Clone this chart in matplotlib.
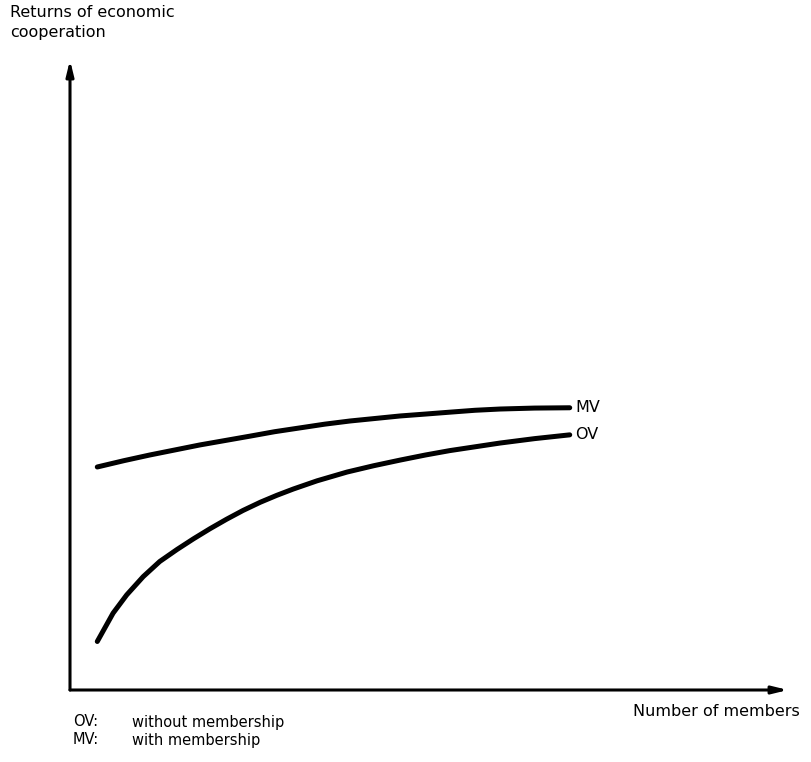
import matplotlib.pyplot as plt

# curve values (x: number of members, y: returns), 0..100 scale
mv_x = [3.8, 7.5, 11.1, 14.6, 18.1, 21.6, 25.1, 28.5, 32.0, 35.5, 39.0, 42.5,
        46.0, 49.5, 52.9, 56.4, 59.9, 64.7, 69.6]
mv_y = [35.4, 36.4, 37.3, 38.1, 38.9, 39.6, 40.3, 41.0, 41.6, 42.2, 42.7, 43.1,
        43.5, 43.8, 44.1, 44.4, 44.6, 44.75, 44.8]

ov_x = [3.8, 6.0, 7.9, 10.2, 12.5, 14.9, 17.2, 19.5, 21.8, 24.1, 26.5, 28.8,
        31.1, 34.4, 38.6, 42.3, 46.0, 49.5, 52.9, 56.4, 59.9, 64.7, 69.6]
ov_y = [7.7, 12.2, 15.1, 18.0, 20.4, 22.3, 24.0, 25.6, 27.1, 28.5, 29.8, 30.9,
        31.9, 33.2, 34.6, 35.6, 36.5, 37.3, 38.0, 38.6, 39.2, 39.9, 40.5]

curve_names = ["MV", "OV"]
legend_keys = ["OV:", "MV:"]
legend_texts = ["without membership", "with membership"]

W, H = 812, 762
fig = plt.figure(figsize=(W / 100, H / 100), dpi=100)
plt.rcParams['font.family'] = ['DejaVu Sans']

# axes box: origin at pixel (70, 690), top at 60, right end at 788
ax = fig.add_axes([70 / W, (H - 690) / H, 718 / W, 630 / H])
ax.set_xlim(0, 100)
ax.set_ylim(0, 100)
ax.axis("off")

# axis arrows
arrow_kw = dict(arrowstyle="-|>,head_length=0.9,head_width=0.22", color="black",
                lw=2.2, shrinkA=0, shrinkB=0)
ax.annotate("", xy=(0, 100), xytext=(0, 0), arrowprops=arrow_kw, annotation_clip=False)
ax.annotate("", xy=(100, 0), xytext=(0, 0), arrowprops=arrow_kw, annotation_clip=False)

# curves
for xs, ys, name in [(mv_x, mv_y, curve_names[0]), (ov_x, ov_y, curve_names[1])]:
    ax.plot(xs, ys, color="black", lw=3.6, solid_capstyle="round", solid_joinstyle="round")
    ax.annotate(name, xy=(xs[-1], ys[-1]), xytext=(4, 0), textcoords="offset points",
                ha="left", va="center", fontsize=11.5)

# labels
fig.text(10 / W, 1 - 5 / H, "Returns of economic\ncooperation", ha="left", va="top",
         fontsize=11.5, linespacing=1.45)
fig.text(800 / W, 1 - 711 / H, "Number of members", ha="right", va="center", fontsize=11.5)

for i, (k, t) in enumerate(zip(legend_keys, legend_texts)):
    y = 1 - (722 + 18 * i) / H
    fig.text(73 / W, y, k, ha="left", va="center", fontsize=10.5)
    fig.text(132 / W, y, t, ha="left", va="center", fontsize=10.5)

fig.savefig("out.png", dpi=100, facecolor="white")
